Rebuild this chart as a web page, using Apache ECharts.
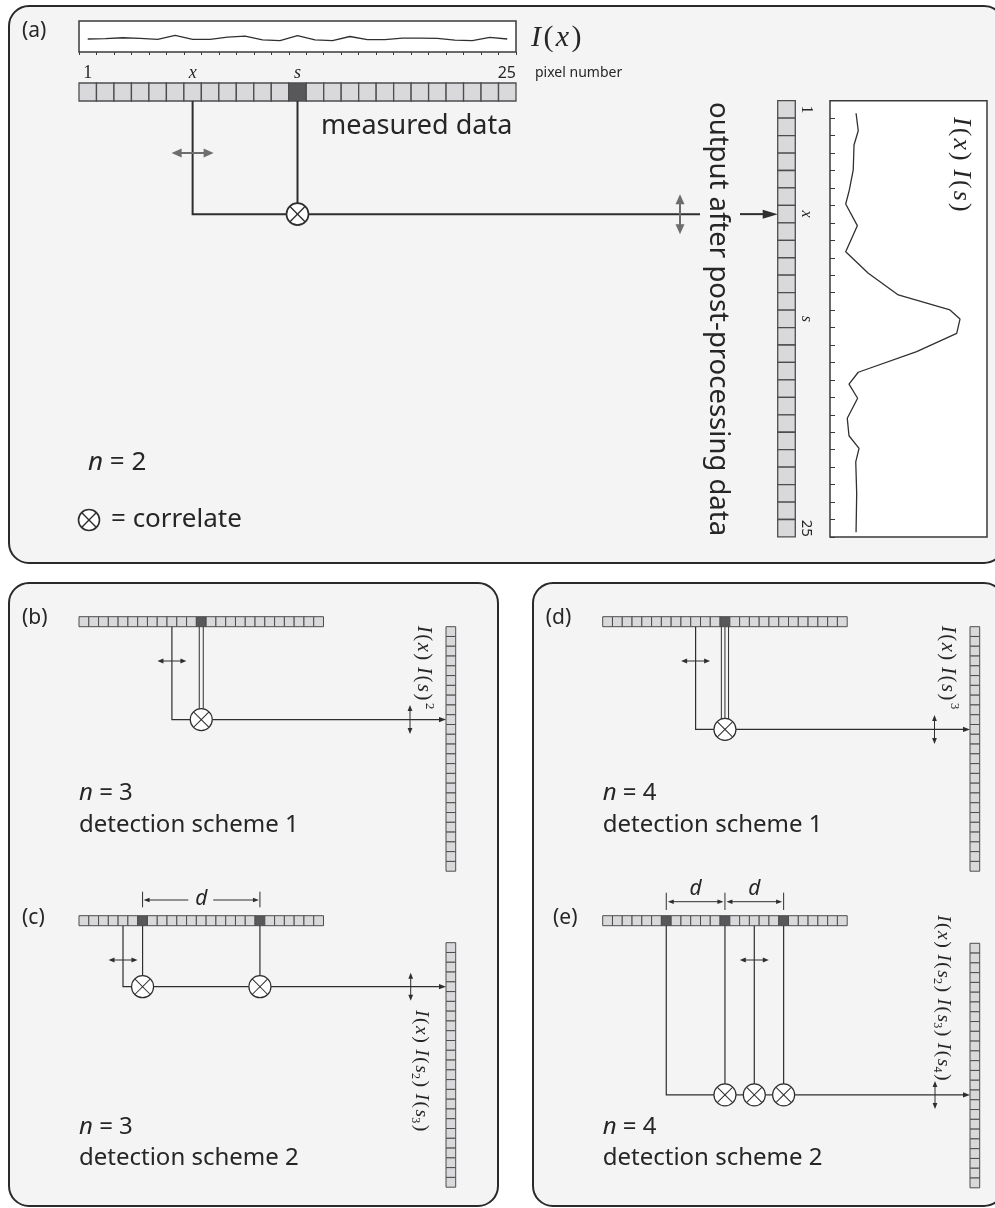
<!DOCTYPE html>
<html>
<head>
<meta charset="utf-8">
<script src="https://cdn.jsdelivr.net/npm/echarts@6/dist/echarts.min.js"></script>
<style>
  html, body { margin: 0; padding: 0; background: #ffffff; }
  #chart { width: 995px; height: 1208px; }
</style>
</head>
<body>
<div id="chart"></div>
<script>
// ---- data ---------------------------------------------------------------
// detector pixel numbers
const pixelNumbers = ['1','2','3','4','5','6','7','8','9','10','11','12','13',
                      '14','15','16','17','18','19','20','21','22','23','24','25'];
// measured intensity I(x) per pixel (arbitrary units)
const measuredIntensity = [42, 43, 46, 44, 41, 54, 41, 41, 48, 51, 39, 37, 53,
                           39, 37, 50, 40, 40, 45, 45, 44, 38, 37, 47, 42];
// post-processed correlation I(x) I(s): position along the detector (pixel units)
const correlationPosition = [0.72, 1.72, 2.54, 3.97, 5.12, 5.92, 7.16, 8.65, 9.89, 11.13, 11.99, 12.51,
                             13.33, 14.38, 15.56, 16.24, 17.05, 18.2, 19.2, 19.92, 20.69, 22.5, 24.73];
// ... and its value there (arbitrary units)
const correlationValue = [16.6, 18.0, 15.3, 14.8, 12.3, 10.0, 17.4, 10.0, 24.4, 43.5, 76.4, 82.8,
                          80.7, 55.2, 18.0, 12.1, 17.6, 11.0, 12.1, 18.5, 16.4, 17.0, 16.6];
// labelled pixels on the strips of panel (a)
const labelledPixels = [1, 7, 13, 25];
const labelledText = ['1', 'x', 's', '25'];
// reference pixels (dark) and scanning pixel x for each scheme
const schemeA = { ref: [13], scan: 7 };
const schemeB = { ref: [13], scan: 10, out: 10 };
const schemeC = { ref: [7, 19], scan: 5, out: 5 };
const schemeD = { ref: [13], scan: 10, out: 11 };
const schemeE = { ref: [7, 13, 19], scan: 16, out: 16 };

// ---- styling ------------------------------------------------------------
const SERIF = "'Liberation Serif','DejaVu Serif',serif";
const SANS = "'Noto Sans','Open Sans',sans-serif";
const INK = '#262626';
const WIRE = '#2e2e2e';
const CELL_FILL = '#d9d9db';
const CELL_EDGE = '#4d4d4d';
const CELL_DARK = '#58585b';
const PANEL_BG = '#f4f4f4';
const PANEL_EDGE = '#2a2a2a';
const GRAY = '#6d6d6d';
const NPIX = pixelNumbers.length;

const G = [];
function add(...els) { els.forEach(e => Array.isArray(e) ? G.push(...e) : G.push(e)); }

function panel(x, y, w, h) {
  return { type: 'rect', z: -100, shape: { x, y, width: w, height: h, r: 20 },
           style: { fill: PANEL_BG, stroke: PANEL_EDGE, lineWidth: 2 } };
}
function strip(x0, y0, cw, ch, vertical, dark, lw) {
  const out = [];
  for (let i = 0; i < NPIX; i++) {
    out.push({ type: 'rect', z: 10,
      shape: { x: vertical ? x0 : x0 + i * cw, y: vertical ? y0 + i * ch : y0, width: cw, height: ch },
      style: { fill: dark.includes(i + 1) ? CELL_DARK : CELL_FILL, stroke: CELL_EDGE, lineWidth: lw } });
  }
  return out;
}
function wire(points, lw, color) {
  return { type: 'polyline', z: 12, shape: { points },
           style: { stroke: color || WIRE, lineWidth: lw, fill: null } };
}
function head(tx, ty, dx, dy, len, hw, color) {
  const bx = tx - dx * len, by = ty - dy * len;
  return { type: 'polygon', z: 13,
    shape: { points: [[tx, ty], [bx - dy * hw, by + dx * hw], [bx + dy * hw, by - dx * hw]] },
    style: { fill: color || WIRE } };
}
function dbl(x1, y1, x2, y2, len, hw, lw, color) {
  const L = Math.hypot(x2 - x1, y2 - y1), dx = (x2 - x1) / L, dy = (y2 - y1) / L;
  return [
    wire([[x1 + dx * len * 0.7, y1 + dy * len * 0.7], [x2 - dx * len * 0.7, y2 - dy * len * 0.7]], lw, color),
    head(x2, y2, dx, dy, len, hw, color),
    head(x1, y1, -dx, -dy, len, hw, color)
  ];
}
function mult(cx, cy, r, lw) {
  const k = r * Math.SQRT1_2;
  return [
    { type: 'circle', z: 14, shape: { cx, cy, r }, style: { fill: '#ffffff', stroke: WIRE, lineWidth: lw } },
    { type: 'line', z: 15, shape: { x1: cx - k, y1: cy - k, x2: cx + k, y2: cy + k }, style: { stroke: WIRE, lineWidth: lw * 0.85 } },
    { type: 'line', z: 15, shape: { x1: cx - k, y1: cy + k, x2: cx + k, y2: cy - k }, style: { stroke: WIRE, lineWidth: lw * 0.85 } }
  ];
}
function text(x, y, str, size, extra) {
  return { type: 'text', z: 20, x, y, rotation: (extra && extra.rotation) || 0,
    style: Object.assign({ text: str, fontSize: size, fontFamily: SANS, fill: INK,
                           align: 'left', verticalAlign: 'middle' }, (extra && extra.style) || {}) };
}
function mathRich(size) {
  const lh = Math.round(size * 1.25), p = size * 0.08;
  return {
    i:   { fontFamily: SERIF, fontStyle: 'italic', fontSize: size, lineHeight: lh, fill: INK },
    r:   { fontFamily: SERIF, fontSize: size, lineHeight: lh, fill: INK, padding: [0, p, 0, p] },
    sp:  { fontFamily: SERIF, fontSize: size, lineHeight: lh, fill: INK },
    sup: { fontFamily: SERIF, fontSize: size * 0.62, lineHeight: size * 0.62, verticalAlign: 'top', fill: INK, padding: [0, 0, 0, 1] },
    sub: { fontFamily: SERIF, fontSize: size * 0.62, lineHeight: size * 0.62, verticalAlign: 'bottom', fill: INK }
  };
}
const IX = '{i|I}{r|(}{i|x}{r|)}';
function IS(sub) { return '{i|I}{r|(}{i|s}' + (sub ? '{sub|' + sub + '}' : '') + '{r|)}'; }
function math(x, y, str, size, rot) {
  return { type: 'text', z: 20, x, y, rotation: rot || 0,
    style: { text: str, rich: mathRich(size), fontSize: size, fontFamily: SERIF, fill: INK,
             align: 'left', verticalAlign: 'middle' } };
}
function nLabel(x, y, n, size) {
  return text(x, y, '{n|n} = ' + n, size,
    { style: { rich: { n: { fontFamily: SANS, fontStyle: 'italic', fontSize: size, fill: INK } } } });
}
const CW = -Math.PI / 2;   // clockwise quarter turn

// ---- panel (a): n = 2 ----------------------------------------------------
add(panel(9, 6, 995, 557));
add(text(22, 31, '(a)', 21));
const A = { x: 79, y: 83, cw: 17.48, ch: 18, ox: 777.7, oy: 100.7, ow: 17.6, oh: 17.45 };
const aCol = k => A.x + (k - 0.5) * A.cw;
const aRow = k => A.oy + (k - 0.5) * A.oh;
add(strip(A.x, A.y, A.cw, A.ch, false, schemeA.ref, 1.3));
add(strip(A.ox, A.oy, A.ow, A.oh, true, [], 1.3));
const aWireY = aRow(schemeA.scan);
const aS = aCol(schemeA.ref[0]);
const aX = aCol(schemeA.scan);
add(wire([[aX, A.y + A.ch], [aX, aWireY], [aS - 11, aWireY]], 2));
add(wire([[aS, A.y + A.ch], [aS, aWireY - 11]], 2));
add(mult(aS, aWireY, 11, 1.6));
add(wire([[aS + 11, aWireY], [700, aWireY]], 2));
add(wire([[740, aWireY], [A.ox - 12, aWireY]], 2));
add(head(A.ox, aWireY, 1, 0, 15, 4.5));
add(dbl(aX - 21, 153, aX + 21, 153, 10, 4.5, 2, GRAY));
add(dbl(680, aWireY - 20, 680, aWireY + 20, 10, 4.5, 2, GRAY));
// labels along the measured strip
labelledPixels.forEach((k, i) => {
  const t = labelledText[i];
  if (t === '25') {
    add(text(A.x + NPIX * A.cw, 73, t, 16, { style: { align: 'right' } }));
  } else {
    add(text(aCol(k), 73, t, 18, { style: { align: 'center', fontFamily: SERIF,
      fontStyle: t === '1' ? 'normal' : 'italic' } }));
  }
  // and along the output strip
  add(text(806, aRow(k), t, t === '25' ? 15 : 16, { rotation: CW, style: { align: 'center',
    fontFamily: t === '25' ? SANS : SERIF, fontStyle: (t === 'x' || t === 's') ? 'italic' : 'normal' } }));
});
add(text(535, 73, 'pixel number', 14));
add(math(531, 38, IX, 30));
add(text(321, 126, 'measured data', 27));
add(text(718, 102, 'output after post-processing data', 27.5, { rotation: CW }));
add(math(961, 117, IX + '{sp| }' + IS(), 26, CW));
add(nLabel(88, 463, 2, 26));
add(mult(89, 520, 10.5, 1.6));
add(text(111, 520, '= correlate', 26));

// ---- panel (b) and (c): n = 3 ----------------------------------------------
add(panel(9, 583, 489, 623));
add(panel(533, 583, 471, 623));
const SC = 9.78, SH = 10, OW = 9.7, OH = 9.78;

function scheme1(label, sx, sy, ox, oy, sch, lines, lblX, lblTxt, n) {
  const col = k => sx + (k - 0.5) * SC;
  const wy = oy + (sch.out - 0.5) * OH;
  const s = col(sch.ref[0]), x = col(sch.scan);
  add(text(sx - 57, sy + 1, label, 21));
  add(strip(sx, sy, SC, SH, false, sch.ref, 1));
  add(strip(ox, oy, OW, OH, true, [], 1));
  add(wire([[x, sy + SH], [x, wy], [s - 11, wy]], 1.2));
  const gap = lines === 2 ? [-2, 2] : [-3.6, 0, 3.6];
  gap.forEach(g => add(wire([[s + g, sy + SH], [s + g, wy - Math.sqrt(121 - g * g)]], 1)));
  add(mult(s, wy, 11, 1.2));
  add(wire([[s + 11, wy], [ox - 6, wy]], 1.2));
  add(head(ox, wy, 1, 0, 7, 2.6));
  add(dbl(x - 14.5, 661, x + 14.5, 661, 6, 2.4, 1));
  add(dbl(lblX - 13, wy - 14.5, lblX - 13, wy + 14.5, 6, 2.4, 1));
  add(math(lblX, sy + 9, lblTxt, 20.5, CW));
  add(nLabel(sx, 793, n, 24));
  add(text(sx, 825, 'detection scheme 1', 24));
}
scheme1('(b)', 79, 616.7, 446, 626.7, schemeB, 2, 423, IX + '{sp| }' + IS() + '{sup|2}', 3);
scheme1('(d)', 602.7, 616.7, 970, 626.7, schemeD, 3, 947.5, IX + '{sp| }' + IS() + '{sup|3}', 4);

// panel (c): two reference pixels spaced d apart
(function () {
  const sx = 79, sy = 915.7, ox = 446, oy = 942.7, sch = schemeC;
  const col = k => sx + (k - 0.5) * SC;
  const wy = oy + (sch.out - 0.5) * OH;
  const x = col(sch.scan), c1 = col(sch.ref[0]), c2 = col(sch.ref[1]);
  add(text(22, 918, '(c)', 21));
  add(strip(sx, sy, SC, SH, false, sch.ref, 1));
  add(strip(ox, oy, OW, OH, true, [], 1));
  add(wire([[x, sy + SH], [x, wy], [c1 - 11, wy]], 1.2));
  add(wire([[c1, sy + SH], [c1, wy - 11]], 1.2));
  add(wire([[c2, sy + SH], [c2, wy - 11]], 1.2));
  add(mult(c1, wy, 11, 1.2));
  add(mult(c2, wy, 11, 1.2));
  add(wire([[c1 + 11, wy], [c2 - 11, wy]], 1.2));
  add(wire([[c2 + 11, wy], [ox - 6, wy]], 1.2));
  add(head(ox, wy, 1, 0, 7, 2.6));
  add(dbl(x - 14.5, 960, x + 14.5, 960, 6, 2.4, 1));
  add(dbl(410.7, wy - 14, 410.7, wy + 14, 6, 2.4, 1));
  // dimension d
  add(wire([[c1, 891.7], [c1, 907.3]], 1));
  add(wire([[c2, 891.7], [c2, 907.3]], 1));
  const mid = (c1 + c2) / 2;
  add(wire([[c1 + 5, 900], [mid - 13, 900]], 1));
  add(head(c1 + 1, 900, -1, 0, 6, 2.2));
  add(wire([[mid + 12, 900], [c2 - 5, 900]], 1));
  add(head(c2 - 1, 900, 1, 0, 6, 2.2));
  add(text(mid, 899, 'd', 21, { style: { align: 'center', fontStyle: 'italic' } }));
  add(math(421.5, 1010, IX + '{sp| }' + IS('2') + '{sp| }' + IS('3'), 19.5, CW));
  add(nLabel(sx, 1127, 3, 24));
  add(text(sx, 1158, 'detection scheme 2', 24));
})();

// panel (e): three reference pixels spaced d apart
(function () {
  const sx = 602.7, sy = 915.7, ox = 970, oy = 943.3, sch = schemeE;
  const col = k => sx + (k - 0.5) * SC;
  const wy = oy + (sch.out - 0.5) * OH;
  const s2 = col(sch.ref[0]), s3 = col(sch.ref[1]), s4 = col(sch.ref[2]), x = col(sch.scan);
  const circles = [s3, x, s4];
  add(text(553, 918, '(e)', 21));
  add(strip(sx, sy, SC, SH, false, sch.ref, 1));
  add(strip(ox, oy, OW, OH, true, [], 1));
  add(wire([[s2, sy + SH], [s2, wy], [circles[0] - 11, wy]], 1.2));
  circles.forEach(c => { add(wire([[c, sy + SH], [c, wy - 11]], 1.2)); add(mult(c, wy, 11, 1.2)); });
  add(wire([[circles[0] + 11, wy], [circles[1] - 11, wy]], 1.2));
  add(wire([[circles[1] + 11, wy], [circles[2] - 11, wy]], 1.2));
  add(wire([[circles[2] + 11, wy], [ox - 6, wy]], 1.2));
  add(head(ox, wy, 1, 0, 7, 2.6));
  add(dbl(x - 14.5, 960, x + 14.5, 960, 6, 2.4, 1));
  add(dbl(935, wy - 14, 935, wy + 14, 6, 2.4, 1));
  [s2, s3, s4].forEach(c => add(wire([[c, 892.7], [c, 910]], 1)));
  [[s2, s3], [s3, s4]].forEach(([a, b]) => {
    add(dbl(a + 1.5, 901.7, b - 1.5, 901.7, 6, 2.2, 1));
    add(text((a + b) / 2, 889, 'd', 21, { style: { align: 'center', fontStyle: 'italic' } }));
  });
  add(math(943.5, 915, IX + '{sp| }' + IS('2') + '{sp| }' + IS('3') + '{sp| }' + IS('4'), 19.5, CW));
  add(nLabel(sx, 1127, 4, 24));
  add(text(sx, 1158, 'detection scheme 2', 24));
})();

// ---- chart ----------------------------------------------------------------
const chart = echarts.init(document.getElementById('chart'), null, { renderer: 'canvas' });
const frame = { show: true, backgroundColor: '#ffffff', borderColor: '#3a3a3a', borderWidth: 1.5 };
chart.setOption({
  animation: false,
  backgroundColor: '#ffffff',
  grid: [
    Object.assign({ left: 79, top: 21, width: 437, height: 31 }, frame),
    Object.assign({ left: 830, top: 100.7, width: 157, height: 436.3 }, frame)
  ],
  xAxis: [
    { type: 'category', gridIndex: 0, data: pixelNumbers, boundaryGap: true,
      axisLine: { show: false }, axisLabel: { show: false },
      axisTick: { show: true, length: 3, lineStyle: { color: '#3a3a3a', width: 1 } } },
    { type: 'value', gridIndex: 1, min: 0, max: 100, show: false }
  ],
  yAxis: [
    { type: 'value', gridIndex: 0, min: 0, max: 100, show: false },
    { type: 'value', gridIndex: 1, min: 0, max: NPIX, interval: 1, inverse: true,
      axisLine: { show: false }, axisLabel: { show: false }, splitLine: { show: false },
      axisTick: { show: true, inside: true, length: 5, lineStyle: { color: '#3a3a3a', width: 1 } } }
  ],
  series: [
    { type: 'line', xAxisIndex: 0, yAxisIndex: 0, data: measuredIntensity, symbol: 'none',
      lineStyle: { color: '#303030', width: 1.3 } },
    { type: 'line', xAxisIndex: 1, yAxisIndex: 1, symbol: 'none',
      data: correlationPosition.map((p, i) => [correlationValue[i], p]),
      lineStyle: { color: '#303030', width: 1.3 } }
  ],
  graphic: { elements: G }
});
</script>
</body>
</html>
